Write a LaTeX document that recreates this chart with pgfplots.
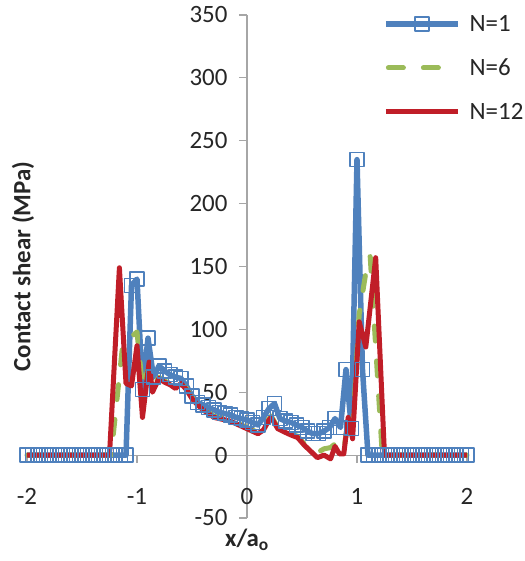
\documentclass[border=0pt]{standalone}
\usepackage{fontspec}
\setmainfont{Carlito}
\usepackage{pgfplots}
\pgfplotsset{compat=1.18}
\definecolor{cblue}{HTML}{4F81BD}
\definecolor{cgreen}{HTML}{9BBB59}
\definecolor{cred}{RGB}{192,30,40}
\definecolor{txt}{HTML}{262626}
\begin{document}
\begin{tikzpicture}
\begin{axis}[
  scale only axis, width=440bp, height=503bp,
  xmin=-2, xmax=2, ymin=-50, ymax=350,
  axis x line=middle, axis y line=middle,
  every inner x axis line/.append style={-},
  every inner y axis line/.append style={-},
  axis line style={draw=gray!70, line width=1.2bp, -},
  hide obscured x ticks=false, hide obscured y ticks=false,
  xtick={-2,-1,0,1,2}, ytick={-50,0,50,100,150,200,250,300,350},
  tick style={draw=gray!70, line width=1.2bp},
  tick align=outside, major tick length=8bp,
  /pgf/number format/assume math mode=true,
  tick label style={font=\fontsize{25}{30}\selectfont, text=txt},
  x tick label style={yshift=-22bp},
  y tick label style={xshift=-8bp},
  xlabel={\textbf{x/a\textsubscript{o}}},
  ylabel={\textbf{Contact shear (MPa)}},
  label style={font=\fontsize{25}{30}\selectfont, text=txt},
  xlabel style={at={(axis description cs:0.5,-0.044)}, anchor=center},
  ylabel style={at={(axis description cs:-0.009,0.5)}, anchor=center, rotate=90},
  legend style={draw=none, fill=none, at={(axis description cs:0.809,1.004)}, anchor=north west,
    font=\fontsize{25}{30}\selectfont, text=txt, row sep=22bp, inner sep=0pt},
  legend cell align=left,
  legend image code/.code={\draw[mark repeat=2,mark phase=2] plot coordinates {(0bp,0bp) (36bp,0bp) (72bp,0bp)}; \path (79bp,0bp);},
  clip=false,
]
\coordinate (sw) at (rel axis cs:0,0);
\addplot[cblue, line width=5.5bp, line join=round, mark=square, mark size=7bp,
  mark options={solid, fill=none, line width=1.5bp}] table {
x y
-2.00 0
-1.95 0
-1.90 0
-1.85 0
-1.80 0
-1.75 0
-1.70 0
-1.65 0
-1.60 0
-1.55 0
-1.50 0
-1.45 0
-1.40 0
-1.35 0
-1.30 0
-1.25 0
-1.20 0
-1.15 0
-1.10 0
-1.05 135
-1.00 140
-0.95 52
-0.90 93
-0.85 62
-0.80 71
-0.75 67
-0.70 64
-0.65 62
-0.60 61
-0.55 55
-0.50 47
-0.45 42
-0.40 40
-0.35 38
-0.30 36
-0.25 34
-0.20 33
-0.15 32
-0.10 30
-0.05 29
0.00 28
0.05 26
0.10 24
0.15 30
0.20 37
0.25 41
0.30 29
0.35 27
0.40 26
0.45 24
0.50 22
0.55 19
0.60 17
0.65 17
0.70 19
0.75 22
0.80 29
0.85 22
0.90 68
0.95 21
1.00 235
1.05 68
1.10 0
1.15 0
1.20 0
1.25 0
1.30 0
1.35 0
1.40 0
1.45 0
1.50 0
1.55 0
1.60 0
1.65 0
1.70 0
1.75 0
1.80 0
1.85 0
1.90 0
1.95 0
2.00 0
};
\addlegendentry{N=1}
\addplot[cgreen, line width=5bp, line join=round, line cap=round, dash pattern=on 15bp off 20bp,
  legend image code/.code={\draw (2.5bp,0bp) -- (52.5bp,0bp); \path (0bp,0bp) (79bp,0bp);}] table {
x y
-2.00 0
-1.235 0
-1.13 88
-1.00 98
-0.95 54
-0.90 68
-0.86 54
-0.80 62
-0.75 59
-0.70 57
-0.65 55
-0.60 58
-0.55 53
-0.50 46
-0.45 41
-0.40 37
-0.35 34
-0.30 31
-0.25 30
-0.20 29
-0.15 28
-0.10 26
-0.05 24
0.00 22
0.05 20
0.10 18
0.15 21
0.20 29
0.22 31
0.28 22
0.35 19
0.40 17
0.46 15
0.52 9
0.58 5
0.64 2
0.70 5
0.76 6
0.80 9
0.84 4
0.88 4
0.92 28
0.96 20
1.02 112
1.10 156
1.12 158
1.23 0
2.00 0
};
\addlegendentry{N=6}
\addplot[cred, line width=5bp, line join=round] table {
x y
-2.00 0
-1.25 0
-1.16 149
-1.10 57
-1.05 55
-1.00 87
-0.95 30
-0.89 74
-0.86 50
-0.80 61
-0.75 58
-0.70 56
-0.65 53
-0.60 57
-0.55 52
-0.50 45
-0.45 40
-0.40 36
-0.35 33
-0.30 30
-0.25 29
-0.20 28
-0.15 27
-0.10 25
-0.05 23
0.00 21
0.05 19
0.10 17
0.15 20
0.20 28
0.22 30
0.28 21
0.35 18
0.40 16
0.46 14
0.52 8
0.58 3
0.64 -2
0.70 0
0.76 -3
0.80 7
0.84 1
0.88 1
0.92 30
0.96 13
1.02 106
1.08 86
1.17 157
1.25 0
2.00 0
};
\addlegendentry{N=12}
\end{axis}
\pgfresetboundingbox
\path (sw) ++(-27bp,-43bp) rectangle ++(525bp,561bp);
\end{tikzpicture}
\end{document}
